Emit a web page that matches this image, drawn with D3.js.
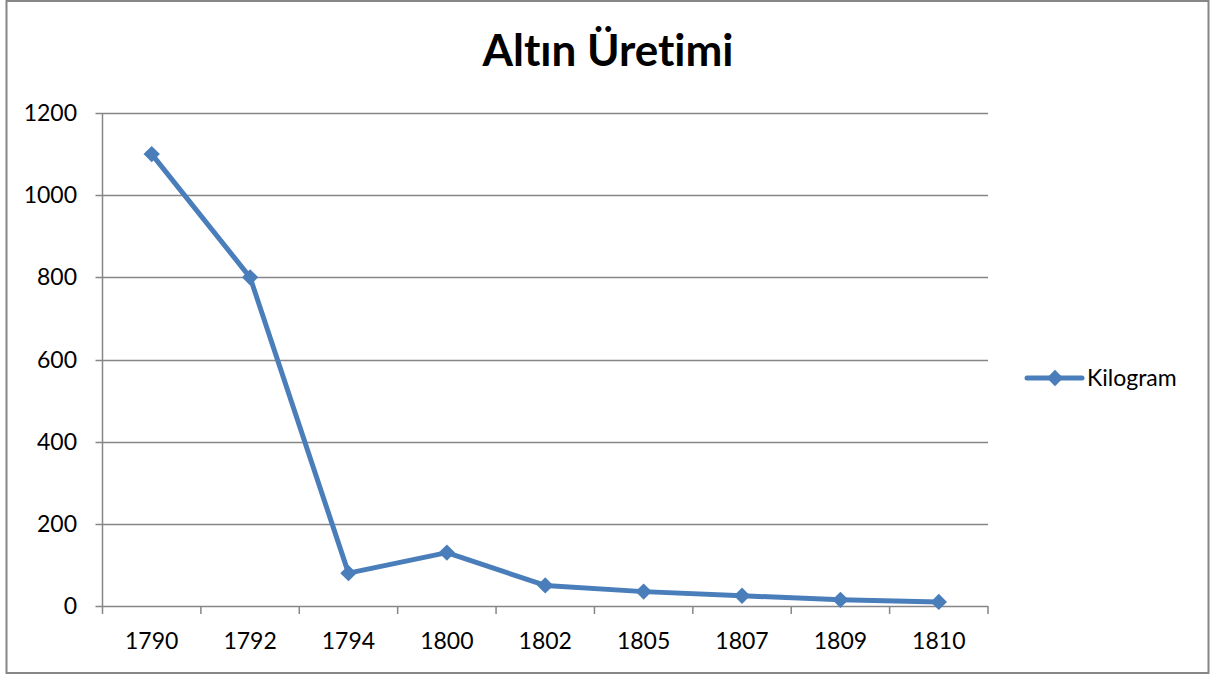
<!DOCTYPE html>
<html>
<head>
<meta charset="utf-8">
<script src="https://cdn.jsdelivr.net/npm/d3@7"></script>
<style>
  body { margin: 0; background: #fff; }
  svg text {
    font-family: Lato, "Open Sans", sans-serif; fill: #000;
    font-variant-ligatures: none;
    font-feature-settings: "liga" 0, "clig" 0, "dlig" 0;
  }
</style>
</head>
<body>
<div id="chart"></div>
<script>
// Data
var years = ["1790", "1792", "1794", "1800", "1802", "1805", "1807", "1809", "1810"];
var kilogram = [1100, 800, 80, 130, 50, 35, 25, 15, 10];
var yTicks = [0, 200, 400, 600, 800, 1000, 1200];
var seriesName = "Kilogram";
var title = "Altın Üretimi";

var width = 1210, height = 677;
var lineColor = "#4a7ebb";
var gridColor = "#868686";

var svg = d3.select("#chart").append("svg")
  .attr("width", width)
  .attr("height", height);

// outer frame
svg.append("rect")
  .attr("x", 6.5).attr("y", 1)
  .attr("width", 1202).attr("height", 672)
  .attr("fill", "#fff")
  .attr("stroke", gridColor)
  .attr("stroke-width", 2);

// plot area (don't use "top" - clashes with window.top)
var plotLeft = 102.5, plotRight = 988, plotTop = 113, plotBottom = 606;

var x = d3.scaleBand().domain(years).range([plotLeft, plotRight]);
var y = d3.scaleLinear().domain([0, 1200]).range([plotBottom, plotTop]);

// title
svg.append("text")
  .attr("x", 608).attr("y", 66)
  .attr("text-anchor", "middle")
  .style("font-size", "44px")
  .style("font-weight", "bold")
  .text(title);

// horizontal gridlines + y ticks
var yAxis = svg.append("g");
yAxis.selectAll("line.grid")
  .data(yTicks)
  .enter().append("line")
  .attr("class", "grid")
  .attr("x1", plotLeft - 7).attr("x2", plotRight)
  .attr("y1", function(d) { return Math.round(y(d)) + 0.5; })
  .attr("y2", function(d) { return Math.round(y(d)) + 0.5; })
  .attr("stroke", gridColor)
  .attr("stroke-width", 1.5);

yAxis.selectAll("text")
  .data(yTicks)
  .enter().append("text")
  .attr("x", 77)
  .attr("y", function(d) { return y(d) + 8; })
  .attr("text-anchor", "end")
  .style("font-size", "23px")
  .text(function(d) { return d; });

// y axis line
svg.append("line")
  .attr("x1", plotLeft).attr("x2", plotLeft)
  .attr("y1", plotTop).attr("y2", plotBottom)
  .attr("stroke", gridColor)
  .attr("stroke-width", 1.5);

// x axis ticks at band edges
var edges = years.map(function(d) { return x(d); }).concat([plotRight]);
svg.selectAll("line.xtick")
  .data(edges)
  .enter().append("line")
  .attr("class", "xtick")
  .attr("x1", function(d) { return d; })
  .attr("x2", function(d) { return d; })
  .attr("y1", plotBottom).attr("y2", plotBottom + 8)
  .attr("stroke", gridColor)
  .attr("stroke-width", 1.5);

svg.selectAll("text.xlab")
  .data(years)
  .enter().append("text")
  .attr("class", "xlab")
  .attr("x", function(d) { return x(d) + x.bandwidth() / 2; })
  .attr("y", 649)
  .attr("text-anchor", "middle")
  .style("font-size", "23px")
  .text(function(d) { return d; });

// series line
var line = d3.line()
  .x(function(d, i) { return x(years[i]) + x.bandwidth() / 2; })
  .y(function(d) { return y(d); });

svg.append("path")
  .datum(kilogram)
  .attr("d", line)
  .attr("fill", "none")
  .attr("stroke", lineColor)
  .attr("stroke-width", 5)
  .attr("stroke-linejoin", "round");

var diamond = d3.symbol().type(d3.symbolDiamond2).size(170);
svg.selectAll("path.marker")
  .data(kilogram)
  .enter().append("path")
  .attr("class", "marker")
  .attr("d", diamond)
  .attr("transform", function(d, i) {
    return "translate(" + (x(years[i]) + x.bandwidth() / 2) + "," + y(d) + ")";
  })
  .attr("fill", lineColor);

// legend
var legend = svg.append("g").attr("transform", "translate(1027,378)");
legend.append("line")
  .attr("x1", 0).attr("x2", 55)
  .attr("stroke", lineColor)
  .attr("stroke-width", 5)
  .attr("stroke-linecap", "round");
legend.append("path")
  .attr("d", diamond)
  .attr("transform", "translate(28,0)")
  .attr("fill", lineColor);
legend.append("text")
  .attr("x", 60).attr("y", 8)
  .style("font-size", "23px")
  .text(seriesName);
</script>
</body>
</html>
